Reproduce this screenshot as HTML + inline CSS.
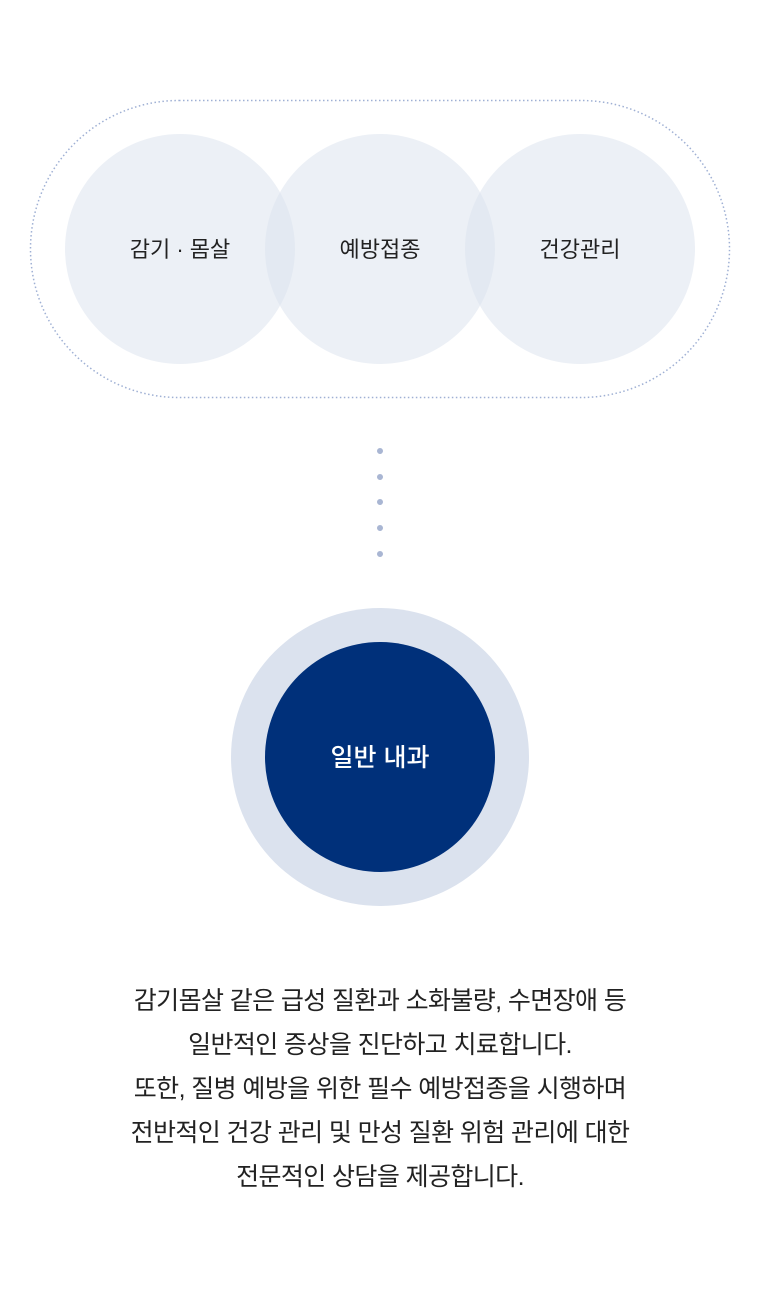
<!DOCTYPE html>
<html><head><meta charset="utf-8"><style>
body{margin:0;width:760px;height:1306px;background:#fff;overflow:hidden}
svg{position:absolute;left:0;top:0}
.t{font-family:"Liberation Sans","Noto Sans CJK KR",sans-serif}
.p{position:absolute;left:0;top:979px;width:760px;text-align:center;font-family:"Liberation Sans","Noto Sans CJK KR",sans-serif;font-size:25px;line-height:44px;color:#222;letter-spacing:-0.6px}
</style></head><body>
<svg width="760" height="1306">
<rect x="30.5" y="100.5" width="699" height="297" rx="148.5" fill="none" stroke="#9fb0d4" stroke-width="1.5" stroke-dasharray="1.5 2.5"/>
<g fill="#dde3ef" fill-opacity="0.55">
<circle cx="180" cy="249" r="115"/>
<circle cx="380" cy="249" r="115"/>
<circle cx="580" cy="249" r="115"/>
</g>
<g class="t" font-size="22" fill="#222" text-anchor="middle">
<text x="180" y="257">감기 · 몸살</text>
<text x="380" y="257">예방접종</text>
<text x="580" y="257">건강관리</text>
</g>
<g fill="#a9b6d3">
<circle cx="380" cy="451" r="3"/><circle cx="380" cy="477" r="3"/><circle cx="380" cy="502" r="3"/><circle cx="380" cy="528" r="3"/><circle cx="380" cy="554" r="3"/>
</g>
<circle cx="380" cy="757" r="149" fill="#dbe2ee"/>
<circle cx="380" cy="757" r="115" fill="#00307a"/>
<text class="t" x="380" y="766" font-size="25" fill="#fff" text-anchor="middle" font-weight="500">일반 내과</text>
</svg>
<div class="p">감기몸살 같은 급성 질환과 소화불량, 수면장애 등<br>일반적인 증상을 진단하고 치료합니다.<br>또한, 질병 예방을 위한 필수 예방접종을 시행하며<br>전반적인 건강 관리 및 만성 질환 위험 관리에 대한<br>전문적인 상담을 제공합니다.</div>
</body></html>
